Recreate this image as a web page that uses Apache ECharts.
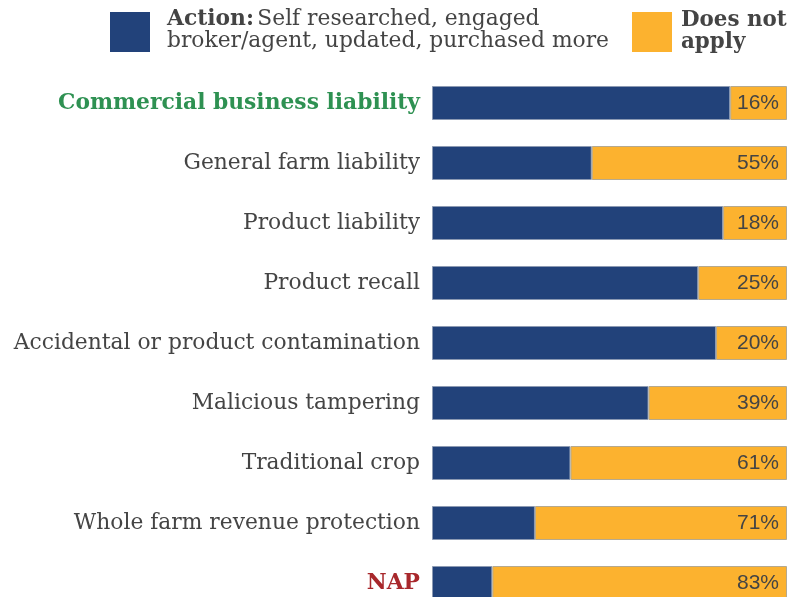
<!DOCTYPE html>
<html>
<head>
<meta charset="utf-8">
<script src="https://cdn.jsdelivr.net/npm/echarts@6/dist/echarts.min.js"></script>
<style>
  html, body { margin: 0; padding: 0; background: #fff; overflow: hidden; }
  /* the last row runs past the bottom edge of the window */
  #chart { width: 807px; height: 620px; }
</style>
</head>
<body>
<div id="chart"></div>
<script>
// Insurance categories, top to bottom
const categories = [
  'Commercial business liability',
  'General farm liability',
  'Product liability',
  'Product recall',
  'Accidental or product contamination',
  'Malicious tampering',
  'Traditional crop',
  'Whole farm revenue protection',
  'NAP'
];
// Share (%) answering "Does not apply"
const doesNotApply = [16, 55, 18, 25, 20, 39, 61, 71, 83];
// Share (%) that took action (remainder of 100%)
const action = doesNotApply.map(v => 100 - v);

const labelFont = '"DejaVu Serif", serif';
const BLUE = '#22427a';
const ORANGE = '#fcb22f';

const chart = echarts.init(document.getElementById('chart'));
chart.setOption({
  animation: false,
  backgroundColor: '#fff',
  grid: { left: 432, right: 20, top: 73, height: 540 },
  xAxis: {
    type: 'value', min: 0, max: 100,
    show: false
  },
  yAxis: {
    type: 'category',
    data: categories,
    inverse: true,
    axisLine: { show: false },
    axisTick: { show: false },
    axisLabel: {
      margin: 12,
      fontFamily: labelFont,
      fontSize: 21.8,
      color: '#444',
      formatter: function (v) {
        if (v === 'Commercial business liability') return '{g|' + v + '}';
        if (v === 'NAP') return '{r|' + v + '}';
        return v;
      },
      rich: {
        g: { fontFamily: labelFont, fontSize: 21.8, fontWeight: 'bold', color: '#2e9152' },
        r: { fontFamily: labelFont, fontSize: 21.8, fontWeight: 'bold', color: '#a8282c' }
      }
    }
  },
  graphic: [
    { type: 'rect', left: 110, top: 12, shape: { width: 40, height: 40 }, style: { fill: BLUE } },
    {
      type: 'text', left: 167, top: 8,
      style: {
        text: '{b|Action:} {n|Self researched, engaged}\n{n|broker/agent, updated, purchased more}',
        rich: {
          b: { fontFamily: labelFont, fontSize: 21.8, fontWeight: 'bold', fill: '#444', lineHeight: 22 },
          n: { fontFamily: labelFont, fontSize: 21.8, fill: '#444', lineHeight: 22 }
        }
      }
    },
    { type: 'rect', left: 632, top: 12, shape: { width: 40, height: 40 }, style: { fill: ORANGE } },
    {
      type: 'text', left: 681, top: 9,
      style: {
        text: 'Does not\napply',
        fontFamily: labelFont, fontSize: 21.4, fontWeight: 'bold', fill: '#444', lineHeight: 22
      }
    }
  ],
  series: [
    {
      name: 'Action', type: 'bar', stack: 'total', data: action,
      barWidth: 34,
      itemStyle: { color: BLUE, borderColor: '#8c9ab3', borderWidth: 1 }
    },
    {
      name: 'Does not apply', type: 'bar', stack: 'total', data: doesNotApply,
      barWidth: 34,
      itemStyle: { color: ORANGE, borderColor: '#b5a98f', borderWidth: 1 },
      label: {
        show: true, position: 'insideRight', distance: 8,
        formatter: '{c}%',
        fontFamily: '"Liberation Sans", Arial, sans-serif',
        fontSize: 21, color: '#444'
      }
    }
  ]
});
</script>
</body>
</html>
